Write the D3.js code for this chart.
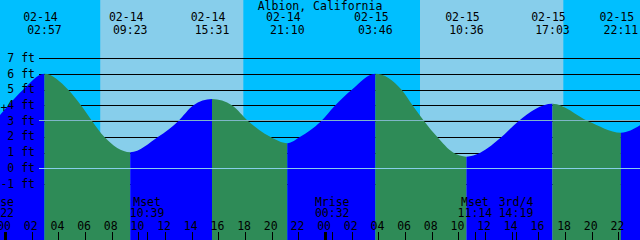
<!DOCTYPE html>
<html>
<head>
<meta charset="utf-8">
<script src="https://cdnjs.cloudflare.com/ajax/libs/d3/7.8.5/d3.min.js"></script>
<style>
  html, body { margin: 0; padding: 0; background: #00bfff; }
  svg { display: block; }
  text { font-family: "DejaVu Sans Mono", monospace; font-size: 11.5px; fill: #000; }
</style>
</head>
<body>
<script>
const title = 'Albion, California';

// tide heights (ft)
const tideTimes = [
  '02-13 23:30', '02-14 00:14', '02-14 01:21', '02-14 02:57', '02-14 04:44', '02-14 05:42',
  '02-14 06:32', '02-14 07:26', '02-14 09:23', '02-14 11:29', '02-14 12:59', '02-14 14:06',
  '02-14 15:31', '02-14 17:02', '02-14 18:14', '02-14 19:53', '02-14 21:10', '02-14 22:08',
  '02-14 23:38', '02-15 00:45', '02-15 02:00', '02-15 03:46', '02-15 05:44', '02-15 06:34',
  '02-15 07:26', '02-15 08:24', '02-15 09:36', '02-15 10:36', '02-15 11:38', '02-15 13:15',
  '02-15 14:30', '02-15 17:03', '02-15 19:44', '02-15 22:11', '02-15 23:45'
];
const tideFeet = [
  3.28, 4.0, 5.0, 6.02, 5.0, 4.0,
  3.0, 2.0, 1.02, 2.0, 3.0, 4.0,
  4.41, 4.0, 3.0, 2.0, 1.59, 2.0,
  2.95, 4.0, 5.0, 6.02, 5.0, 4.0,
  3.0, 2.0, 1.0, 0.74, 0.99, 2.0,
  3.0, 4.1, 3.0, 2.27, 2.81
];

const extremaTimes = ['02-14 02:57', '02-14 09:23', '02-14 15:31', '02-14 21:10',
                      '02-15 03:46', '02-15 10:36', '02-15 17:03', '02-15 22:11'];
const extremaKinds = ['H', 'L', 'H', 'L', 'H', 'L', 'H', 'L'];

const sunriseTimes = ['02-14 07:08', '02-15 07:07'];
const sunsetTimes = ['02-14 17:52', '02-15 17:52'];

const moonTimes = ['02-13 23:22', '02-14 10:39', '02-15 00:32', '02-15 11:14', '02-15 14:19'];
const moonLabels = ['Mrise', 'Mset', 'Mrise', 'Mset', '3rd/4'];

const depthLevels = [-1, 0, 1, 2, 3, 4, 5, 6, 7];
const meanSeaLevel = 3.07;
const viewRange = ['02-13 23:37', '02-15 23:37'];

const width = 640, height = 240;
const parse = d3.timeParse('%m-%d %H:%M');

const x = d3.scaleTime().domain(viewRange.map(parse)).range([0, width]);
const y = d3.scaleLinear().domain([0, 7]).range([168.3, 58.3]);

const tide = tideTimes.map((t, i) => ({ t: parse(t), ft: tideFeet[i] }));
const crisp = v => Math.round(v) + 0.5;

const svg = d3.select('body').append('svg')
  .attr('width', width).attr('height', height);

// sky: night everywhere, day between sunrise and sunset
svg.append('rect').attr('width', width).attr('height', height).attr('fill', '#00bfff');
svg.selectAll('.day').data(sunriseTimes).enter().append('rect')
  .attr('class', 'day')
  .attr('x', (d, i) => x(parse(d)))
  .attr('width', (d, i) => x(parse(sunsetTimes[i])) - x(parse(d)))
  .attr('height', height)
  .attr('fill', '#87ceeb');

// depth lines (behind the water)
svg.selectAll('.depth').data(depthLevels).enter().append('line')
  .attr('class', 'depth')
  .attr('x1', 39).attr('x2', width)
  .attr('y1', d => crisp(y(d))).attr('y2', d => crisp(y(d)))
  .attr('stroke', '#000').attr('shape-rendering', 'crispEdges');

// water: flood blue, ebb green
const area = d3.area()
  .x(d => x(d.t)).y0(height).y1(d => y(d.ft))
  .curve(d3.curveMonotoneX);
svg.append('clipPath').attr('id', 'water')
  .append('path').attr('d', area(tide));

const ext = extremaTimes.map(parse);
const bounds = [x.domain()[0], ...ext, x.domain()[1]];
const segments = d3.range(bounds.length - 1).map(i => ({
  a: bounds[i], b: bounds[i + 1],
  flood: i < ext.length ? extremaKinds[i] === 'H' : extremaKinds[ext.length - 1] === 'L'
}));
svg.append('g').attr('clip-path', 'url(#water)')
  .selectAll('rect').data(segments).enter().append('rect')
  .attr('x', d => x(d.a)).attr('width', d => x(d.b) - x(d.a))
  .attr('y', 0).attr('height', height)
  .attr('fill', d => d.flood ? '#0000ff' : '#2e8b57');

// datum and mean sea level
svg.append('line')
  .attr('x1', 39).attr('x2', width)
  .attr('y1', crisp(y(0))).attr('y2', crisp(y(0)))
  .attr('stroke', '#87ceeb').attr('shape-rendering', 'crispEdges');
svg.append('line')
  .attr('x1', 39).attr('x2', width)
  .attr('y1', crisp(y(meanSeaLevel))).attr('y2', crisp(y(meanSeaLevel)))
  .attr('stroke', '#7fb6c9').attr('shape-rendering', 'crispEdges');

// depth labels
svg.selectAll('.dlabel').data(depthLevels).enter().append('text')
  .attr('class', 'dlabel')
  .attr('x', 35).attr('y', d => y(d) + 3.5)
  .attr('text-anchor', 'end')
  .text(d => d + ' ft');
svg.append('text').attr('x', 4).attr('y', 112).attr('text-anchor', 'middle').text('+');

// title and high/low labels
svg.append('text').attr('x', 320).attr('y', 9.5).attr('text-anchor', 'middle').text(title);
const fmtDate = d3.timeFormat('%m-%d'), fmtTime = d3.timeFormat('%H:%M');
const extLabels = svg.selectAll('.ext').data(ext).enter().append('g').attr('class', 'ext');
extLabels.append('text').attr('x', d => x(d) - 4).attr('y', 21)
  .attr('text-anchor', 'middle').text(d => fmtDate(d));
extLabels.append('text').attr('x', d => x(d)).attr('y', 33.5)
  .attr('text-anchor', 'middle').text(d => fmtTime(d));

// hour axis
const hours = x.ticks(d3.timeHour.every(2));
svg.selectAll('.hlabel').data(hours).enter().append('text')
  .attr('class', 'hlabel')
  .attr('x', d => x(d) - 1).attr('y', 229.5)
  .attr('text-anchor', 'middle')
  .text(d3.timeFormat('%H'));
svg.selectAll('.htick').data(hours).enter().append('line')
  .attr('class', 'htick')
  .attr('x1', d => Math.round(x(d)) + 0.5).attr('x2', d => Math.round(x(d)) + 0.5)
  .attr('y1', 232).attr('y2', height)
  .attr('stroke', '#000')
  .attr('stroke-width', d => d.getHours() === 0 ? 3 : 1)
  .attr('shape-rendering', 'crispEdges');

// moon events
const moon = moonTimes.map((t, i) => ({ t: parse(t), label: moonLabels[i] }));
svg.selectAll('.mtick').data(moon).enter().append('line')
  .attr('class', 'mtick')
  .attr('x1', d => Math.round(x(d.t)) + 0.5).attr('x2', d => Math.round(x(d.t)) + 0.5)
  .attr('y1', 232).attr('y2', height)
  .attr('stroke', '#000').attr('shape-rendering', 'crispEdges');
const ml = svg.selectAll('.mlabel').data(moon).enter().append('g').attr('class', 'mlabel');
ml.append('text').attr('x', d => x(d.t)).attr('y', 206)
  .attr('text-anchor', 'middle').text(d => d.label);
ml.append('text').attr('x', d => x(d.t)).attr('y', 217.3)
  .attr('text-anchor', 'middle').text(d => fmtTime(d.t));
</script>
</body>
</html>
